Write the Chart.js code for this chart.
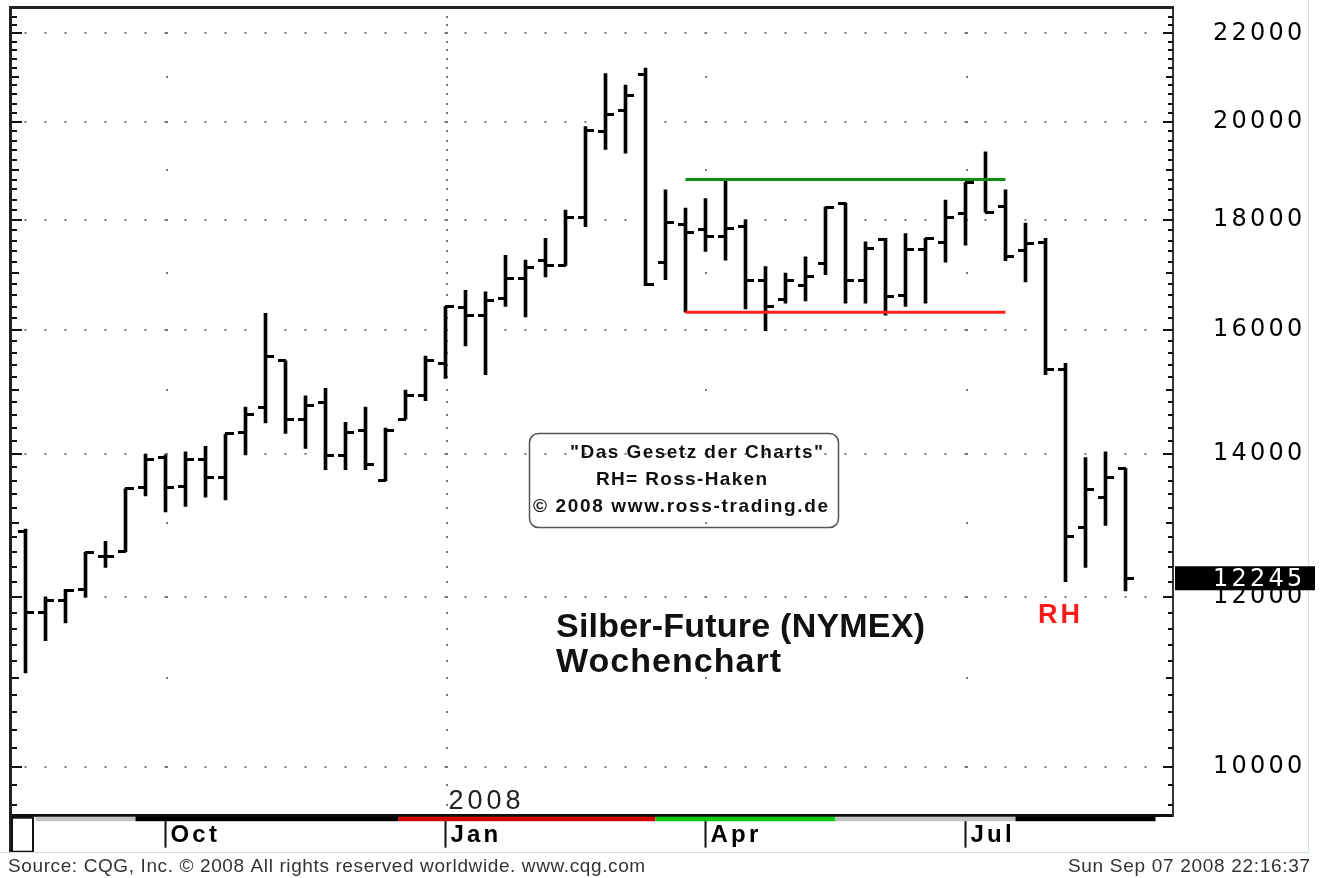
<!DOCTYPE html>
<html>
<head>
<meta charset="utf-8">
<script src="https://cdn.jsdelivr.net/npm/chart.js@4.4.1/dist/chart.umd.min.js"></script>
<style>
html,body{margin:0;padding:0;background:#fff;overflow:hidden}
canvas{display:block}
</style>
</head>
<body>
<canvas id="c" width="1322" height="878"></canvas>
<script>
// ---- data (weekly OHLC, silver future, Aug 2007 - Sep 2008) ----
const weekNo = [0,1,2,3,4,5,6,7,8,9,10,11,12,13,14,15,16,17,18,19,20,21,22,23,24,25,26,27,28,29,30,31,32,33,34,35,36,37,38,39,40,41,42,43,44,45,46,47,48,49,50,51,52,53,54,55];
const openP  = [12880,11800,11950,12100,12540,12600,13500,13950,13510,13920,13640,14320,14710,15470,14530,14790,13970,14350,13600,14530,14900,15420,16390,16240,16550,16900,17240,17140,18050,19790,20240,21040,17200,17920,17810,17690,17880,16860,16530,16770,17170,18330,16860,17620,16590,17430,17570,18130,18790,18260,17420,17570,15330,12930,13350,13780];
const highP  = [12910,12000,12100,12590,12740,13480,13990,13980,14030,14110,14300,14720,16280,15470,14900,15020,14480,14720,14390,14990,15550,16400,16690,16660,17330,17240,17650,18190,19900,21070,20810,21190,18590,18230,18420,18800,18000,17120,17000,17300,18250,18330,17580,17650,17740,17650,18390,18740,19370,18590,17940,17650,15430,13940,14030,13780];
const lowP   = [11060,11450,11670,12000,12390,12600,13380,13150,13230,13360,13320,13980,14470,14310,14080,13760,13760,13760,13600,14530,14820,15180,15720,15240,16400,16220,16930,17140,17870,19420,19340,16770,16880,16300,17400,17240,16360,15980,16460,16500,16970,16460,16460,16250,16400,16460,17200,17520,18150,17230,16840,15240,12200,12390,12960,12080];
const closeP = [11800,11950,12080,12590,12540,13480,13920,13500,13920,13640,14300,14610,15550,14530,14740,13970,14320,13840,14350,14900,15470,16400,16240,16500,16900,17110,17140,18050,19810,20170,20570,16800,17960,17760,17690,17830,16860,16400,16860,16930,18250,16860,17450,16570,17430,17640,18050,18740,18150,17310,17550,15320,12810,13470,13640,12245];

const priceTicks = [10000,12000,14000,16000,18000,20000,22000];
const monthTickWeeks = [7,21,34,47];
const monthTickLabels = ['Oct','Jan','Apr','Jul'];
const yearLabel = '2008';

// trading range (Ross-Haken box)
const rangeHigh = 18800;
const rangeLow = 16300;
const rangeFrom = 33;
const rangeTo = 49;

// contract colour bands under the time axis (week boundaries)
const bandFrom  = [0.5, 5.5, 18.65, 31.5, 40.5, 49.5];
const bandTo    = [5.5, 18.65, 31.5, 40.5, 49.5, 56.5];
const bandColor = ['#c4c4c4','#000000','#d40000','#10cc10','#c4c4c4','#000000'];

// ---- tick images for open (left) and close (right) ----
function tickImage(side){
  const c = document.createElement('canvas');
  c.width = 19; c.height = 3;
  const g = c.getContext('2d');
  g.fillStyle = '#000';
  if (side === 'open') g.fillRect(2,0,8,3); else g.fillRect(9,0,9,3);
  return c;
}
const openTick = tickImage('open');
const closeTick = tickImage('close');

function fitText(ctx, text, x, y, w, font, color){
  ctx.font = font;
  ctx.fillStyle = color;
  ctx.letterSpacing = '0px';
  const m = ctx.measureText(text).width;
  const sp = text.length > 1 ? (w - m) / (text.length - 1) : 0;
  ctx.letterSpacing = sp.toFixed(2) + 'px';
  ctx.textAlign = 'left';
  ctx.textBaseline = 'middle';
  ctx.fillText(text, x, y);
  ctx.letterSpacing = '0px';
}

const AXIS_SPACING = '3.2px';

const decor = {
  id: 'decor',
  beforeDraw(chart){
    const ctx = chart.ctx;
    ctx.save();
    ctx.fillStyle = '#fff';
    ctx.fillRect(0,0,chart.width,chart.height);
    ctx.restore();
    ctx.letterSpacing = AXIS_SPACING;
  },
  beforeDatasetsDraw(chart){
    const {ctx, chartArea:a, scales:{x,y}} = chart;
    ctx.letterSpacing = '0px';
    ctx.save();
    // dotted month lines
    ctx.fillStyle = '#7a7a7a';
    monthTickWeeks.forEach((w,k)=>{
      const px = Math.round(x.getPixelForValue(w)) + 1;
      const step = monthTickLabels[k] === 'Jan' ? 200 : 1000;
      for (let v = Math.ceil(y.min/step)*step; v <= y.max; v += step){
        const py = Math.round(y.getPixelForValue(v));
        ctx.fillRect(px-1, py-1, 2, 2);
      }
    });
    // small price ticks on both sides
    ctx.fillStyle = '#111';
    for (let v = Math.ceil(y.min/200)*200; v <= y.max; v += 200){
      const py = Math.round(y.getPixelForValue(v));
      const len = v % 2000 === 0 ? 10 : (v % 1000 === 0 ? 7 : 5);
      ctx.fillRect(a.left, py-1, len, 2);
      ctx.fillRect(a.right-len, py-1, len, 2);
    }
    ctx.restore();
  },
  afterDraw(chart){
    const {ctx, chartArea:a, scales:{x,y}} = chart;
    ctx.save();
    ctx.letterSpacing = '0px';
    // frame of plot: top and left
    ctx.fillStyle = '#222';
    ctx.fillRect(a.left-3, a.top-2, a.right-a.left+4, 3);
    ctx.fillRect(a.left-3, a.top-2, 3, 852-(a.top-2));
    // colour bands under axis
    bandFrom.forEach((f,k)=>{
      const x1 = x.getPixelForValue(f), x2 = x.getPixelForValue(bandTo[k]);
      ctx.fillStyle = bandColor[k];
      ctx.fillRect(x1, a.bottom+1, x2-x1, 4.5);
    });
    // small box bottom-left
    ctx.strokeStyle = '#111';
    ctx.lineWidth = 2;
    ctx.strokeRect(a.left, a.bottom+2, 21, 34);
    // light outer frame
    ctx.strokeStyle = '#cfe6cf';
    ctx.lineWidth = 1;
    ctx.beginPath();
    ctx.moveTo(1308.5, 0); ctx.lineTo(1308.5, 852.5); ctx.lineTo(0, 852.5);
    ctx.stroke();

    // info box
    ctx.strokeStyle = '#555';
    ctx.lineWidth = 1.5;
    ctx.beginPath();
    ctx.roundRect(529.5, 433.5, 309, 94, 9);
    ctx.stroke();
    const boxFont = 'bold 19px "Liberation Sans", Arial, sans-serif';
    fitText(ctx, '"Das Gesetz der Charts"', 570, 453, 253, boxFont, '#111');
    fitText(ctx, 'RH= Ross-Haken', 596, 480, 171, boxFont, '#111');
    fitText(ctx, '\u00A9 2008 www.ross-trading.de', 533, 507, 295, boxFont, '#111');

    // titles
    fitText(ctx, 'Silber-Future (NYMEX)', 556, 628, 369, 'bold 34px "Liberation Sans", Arial, sans-serif', '#111');
    fitText(ctx, 'Wochenchart', 556, 663, 225, 'bold 34px "Liberation Sans", Arial, sans-serif', '#111');
    fitText(ctx, 'RH', 1038, 616, 42, 'bold 27px "Liberation Sans", Arial, sans-serif', '#ff1a1a');

    // year label above Jan tick
    const janIdx = monthTickLabels.indexOf('Jan');
    fitText(ctx, yearLabel, x.getPixelForValue(monthTickWeeks[janIdx]) + 3, a.bottom - 14, 72, '27px "Liberation Sans", Arial, sans-serif', '#222');

    // last price box
    const lastClose = closeP[closeP.length-1];
    const py = y.getPixelForValue(lastClose);
    ctx.fillStyle = '#000';
    ctx.fillRect(a.right+2, py-12, 140, 24);
    ctx.fillStyle = '#fff';
    ctx.font = '24px "DejaVu Sans", sans-serif';
    ctx.letterSpacing = AXIS_SPACING;
    ctx.textAlign = 'left';
    ctx.textBaseline = 'middle';
    ctx.fillText(String(lastClose), a.right+40, py+1);
    ctx.letterSpacing = '0px';

    // footer
    fitText(ctx, 'Source: CQG, Inc. \u00A9 2008 All rights reserved worldwide. www.cqg.com', 8, 867, 637, '19px "Liberation Sans", Arial, sans-serif', '#333');
    fitText(ctx, 'Sun Sep 07 2008 22:16:37', 1068, 867, 242, '19px "Liberation Sans", Arial, sans-serif', '#333');
    ctx.restore();
  }
};

new Chart(document.getElementById('c'), {
  type: 'bar',
  data: {
    datasets: [
      { type:'bar', data: weekNo.map(i=>({x:i, y:[lowP[i], highP[i]]})), backgroundColor:'#000', borderWidth:0, barThickness:3, order:3 },
      { type:'line', data: weekNo.map(i=>({x:i, y:openP[i]})), showLine:false, pointStyle: openTick, pointRadius:2, order:2 },
      { type:'line', data: weekNo.map(i=>({x:i, y:closeP[i]})), showLine:false, pointStyle: closeTick, pointRadius:2, order:2 },
      { type:'line', data: [{x:rangeFrom, y:rangeHigh},{x:rangeTo, y:rangeHigh}], borderColor:'#138c13', borderWidth:3, pointRadius:0, order:1 },
      { type:'line', data: [{x:rangeFrom, y:rangeLow},{x:rangeTo, y:rangeLow}], borderColor:'#ff2020', borderWidth:3, pointRadius:0, order:1 }
    ]
  },
  options: {
    responsive:false,
    animation:false,
    events:[],
    devicePixelRatio:1,
    layout:{padding:{left:12, top:8, right:0, bottom:0}},
    plugins:{legend:{display:false}, tooltip:{enabled:false}},
    scales:{
      x:{
        type:'linear', min:-0.675, max:57.375, bounds:'data', offset:false,
        afterBuildTicks(s){ s.ticks = monthTickWeeks.map(v=>({value:v})); },
        afterFit(s){ s.height = 62.3; s.paddingLeft = 0; s.paddingRight = 0; },
        grid:{display:true, offset:false, drawOnChartArea:false, drawTicks:true, tickLength:32, tickColor:'#111', tickWidth:2},
        border:{display:true, color:'#111', width:3},
        ticks:{autoSkip:false, maxRotation:0, minRotation:0, align:'start', labelOffset:5, padding:-27, color:'#000',
               font:{family:'"Liberation Sans", Arial, sans-serif', size:24, weight:'bold'},
               callback:(v,i)=>monthTickLabels[i]}
      },
      y:{
        type:'logarithmic', position:'right', min:9486.6, max:22606.6, bounds:'data',
        afterBuildTicks(s){ s.ticks = priceTicks.map(v=>({value:v})); },
        afterFit(s){ s.width = 149; s.paddingTop = 0; s.paddingBottom = 0; },
        grid:{display:true, drawOnChartArea:true, drawTicks:false, color:'#7d7d7d', lineWidth:2},
        border:{display:true, color:'#333', width:2, dash:[2,18], dashOffset:7.5},
        ticks:{padding:40, color:'#000', font:{family:'"DejaVu Sans", sans-serif', size:24}, callback:v=>String(v)}
      }
    }
  },
  plugins:[decor]
});
</script>
</body>
</html>
